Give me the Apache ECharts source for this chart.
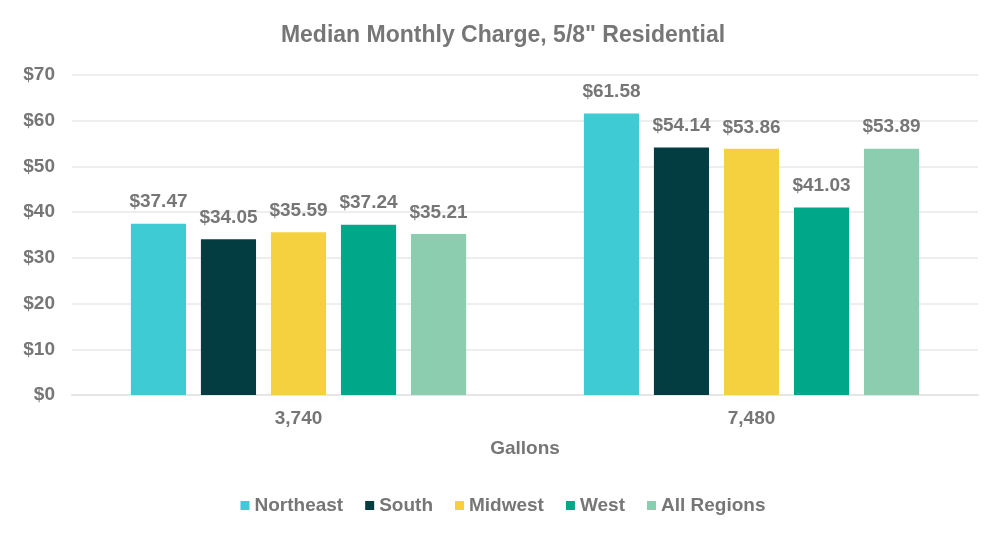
<!DOCTYPE html>
<html>
<head>
<meta charset="utf-8">
<script src="https://cdn.jsdelivr.net/npm/echarts@6/dist/echarts.min.js"></script>
<style>
  html, body { margin: 0; padding: 0; background: #fff; }
  #chart { width: 1006px; height: 540px; }
</style>
</head>
<body>
<div id="chart"></div>
<script>
// data
var categories = ['3,740', '7,480'];
var regions = ['Northeast', 'South', 'Midwest', 'West', 'All Regions'];
var northeast = [37.47, 61.58];
var south = [34.05, 54.14];
var midwest = [35.59, 53.86];
var west = [37.24, 41.03];
var allRegions = [35.21, 53.89];
var colors = ['#3ECBD4', '#033D42', '#F5D13F', '#00A88A', '#8BCDAE'];

var values = [northeast, south, midwest, west, allRegions];
var textColor = '#767676';
var font = 'Liberation Sans, Arial, sans-serif';

var chart = echarts.init(document.getElementById('chart'));

var series = regions.map(function (name, i) {
  return {
    name: name,
    type: 'bar',
    data: values[i],
    barGap: '27%',
    barCategoryGap: '26%',
    itemStyle: { color: colors[i] },
    label: {
      show: true,
      position: 'top',
      distance: 12,
      color: textColor,
      fontWeight: 'bold',
      fontSize: 19,
      fontFamily: font,
      formatter: function (p) { return '$' + p.value.toFixed(2); }
    }
  };
});

chart.setOption({
  animation: false,
  color: colors,
  textStyle: { fontFamily: font },
  title: {
    text: 'Median Monthly Charge, 5/8" Residential',
    left: 'center',
    top: 19,
    textStyle: { color: textColor, fontSize: 23, fontWeight: 'bold', fontFamily: font }
  },
  legend: {
    data: regions,
    bottom: 20,
    left: 'center',
    icon: 'rect',
    itemWidth: 9,
    itemHeight: 9,
    itemGap: 22,
    textStyle: { color: textColor, fontSize: 19, fontWeight: 'bold', fontFamily: font }
  },
  grid: { left: 72, right: 28, top: 75, bottom: 145, containLabel: false },
  xAxis: {
    type: 'category',
    data: categories,
    name: 'Gallons',
    nameLocation: 'middle',
    nameGap: 44,
    nameTextStyle: { color: textColor, fontSize: 19, fontWeight: 'bold', fontFamily: font },
    axisTick: { show: false },
    axisLine: { lineStyle: { color: '#e6e6e6', width: 2 } },
    axisLabel: { color: textColor, fontSize: 19, fontWeight: 'bold', fontFamily: font, margin: 14 }
  },
  yAxis: {
    type: 'value',
    min: 0,
    max: 70,
    interval: 10,
    axisLine: { show: false },
    axisTick: { show: false },
    splitLine: { lineStyle: { color: '#eeeeee', width: 2 } },
    axisLabel: {
      color: textColor, fontSize: 19, fontWeight: 'bold', fontFamily: font, margin: 17,
      formatter: function (v) { return '$' + v; }
    }
  },
  series: series
});
</script>
</body>
</html>
